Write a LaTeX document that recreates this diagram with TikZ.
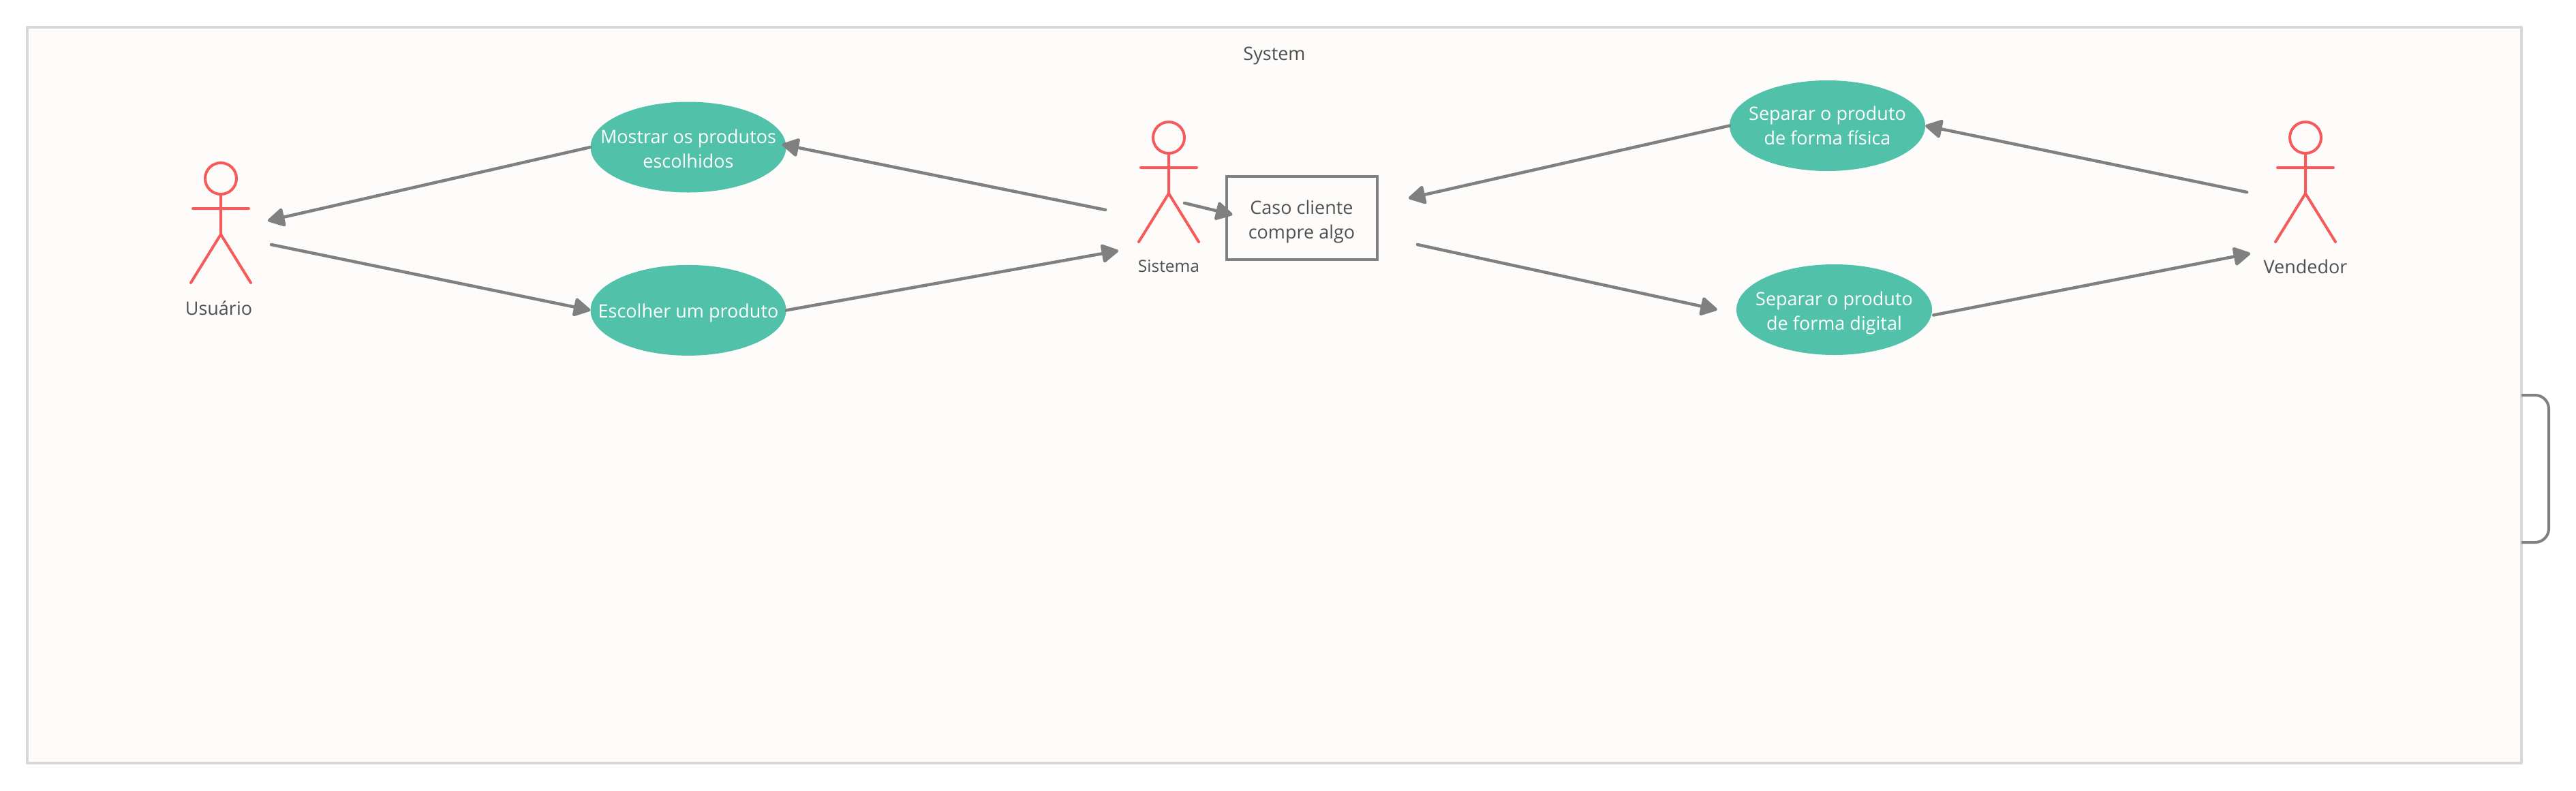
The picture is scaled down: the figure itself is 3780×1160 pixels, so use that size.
\documentclass[tikz,border=0pt]{standalone}
\usepackage{fontspec}
\setmainfont{Open Sans}
\usetikzlibrary{arrows.meta, positioning, shapes.geometric}

\definecolor{framefill}{HTML}{FDFCFA}
\definecolor{frameline}{HTML}{D8D8D8}
\definecolor{casefill}{HTML}{51C1AA}
\definecolor{actorred}{HTML}{F55B5B}
\definecolor{flowgray}{HTML}{808080}
\definecolor{labelgray}{HTML}{505050}

% pushes the text of a node down inside its shape
\newcommand{\lift}[1]{\rule{0pt}{#1pt}}

\tikzset{
	usecase/.style={ellipse, fill=casefill, text=white, align=center, inner xsep=-60pt, inner ysep=0pt, minimum width=287pt, minimum height=133pt},
	caption/.style={text=labelgray, align=center, inner sep=0pt},
	flow/.style={draw=flowgray, line width=4.5pt, line cap=round, -{Triangle[length=27pt, width=29pt, round]}, flowgray},
	actor/.pic={
		\draw[actorred, line width=4pt, line cap=round, fill=framefill] (0,0) circle[radius=23pt];
		\draw[actorred, line width=4pt, line cap=round] (0,23) -- (0,82) (-41,44) -- (41,44) (-44,153) -- (0,82) -- (44,153);
	}
}

\begin{document}
\begin{tikzpicture}[x=1pt, y=-1pt, font=\fontsize{27}{36}\selectfont]
		\useasboundingbox (0,0) rectangle (3780,1160);
		\node[draw=frameline, fill=framefill, line width=4pt, line join=round, outer sep=0pt, minimum width=3660pt, minimum height=1080pt] (frame) at (1870,580) {};
		\node[caption] (system) at (1870,82) {System};

		% actors
		\pic at (324,262) {actor};
		\pic at (1715,202) {actor};
		\pic at (3383,202) {actor};
		\node[caption] (usuario)  at (321,452)  {Usuário};
		\node[caption, font=\fontsize{24.5}{36}\selectfont] (sistema)  at (1715,391) {Sistema};
		\node[caption] (vendedor) at (3383,391) {Vendedor};

		% use cases
		\node[usecase]                     (mostrar)  at (1010,216)   {\lift{26}Mostrar os produtos\\escolhidos};
		\node[usecase, below=106pt of mostrar] (escolher)             {\lift{28}Escolher um produto};
		\node[usecase]                     (fisica)   at (2681.5,184.5) {Separar o produto\\de forma física};
		\node[usecase]                     (digital)  at (2691.5,454.5) {\lift{31}Separar o produto\\de forma digital};
		\node[draw=flowgray, line width=4pt, outer sep=0pt, fill=framefill, text=labelgray, align=center, minimum width=221pt, minimum height=122pt] (caso) at (1910,320) {\lift{31}Caso cliente\\compre algo};

		% free ends beside the actors and the box
		\coordinate (usuarioIn)   at (393,324);
		\coordinate (usuarioOut)  at (398,359);
		\coordinate (sistemaOut)  at (1622,308);
		\coordinate (sistemaIn)   at (1641,368);
		\coordinate (sistemaCaso) at (1738,298);
		\coordinate (casoIn)      at (2067,291);
		\coordinate (casoOut)     at (2080,359);
		\coordinate (vendedorOut) at (3297,282);
		\coordinate (vendedorIn)  at (3302,372);
		\coordinate (loopTop)     at (3700,580);
		\coordinate (loopBottom)  at (3700,796);

		\draw[flow] (mostrar.west)  -- (usuarioIn);
		\draw[flow] (usuarioOut)    -- (escolher.west);
		\draw[flow] (sistemaOut)    -- ([shift={(-6,-4)}]mostrar.east);
		\draw[flow] (escolher.east) -- (sistemaIn);
		\draw[flow] (sistemaCaso)   -- ([shift={(9,-5)}]caso.west);
		\draw[flow] (fisica.west)   -- (casoIn);
		\draw[flow] (casoOut)       -- ([xshift=-28pt]digital.west);
		\draw[flow] (vendedorOut)   -- (fisica.east);
		\draw[flow] ([shift={(2,8)}]digital.east) -- (vendedorIn);

		\draw[draw=flowgray, line width=4pt, rounded corners=20pt] (loopTop) -- ++(40,0) |- (loopBottom);
	\end{tikzpicture}
\end{document}
